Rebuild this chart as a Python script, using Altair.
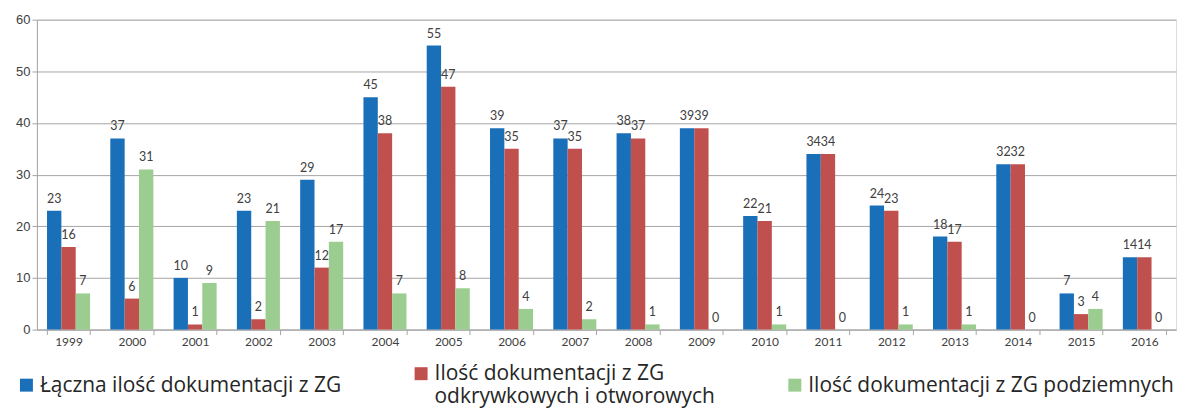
import altair as alt
import pandas as pd

years = [str(y) for y in range(1999, 2017)]
series_names = [
    "Łączna ilość dokumentacji z ZG",
    "Ilość dokumentacji z ZG odkrywkowych i otworowych",
    "Ilość dokumentacji z ZG podziemnych",
]
total = [23, 37, 10, 23, 29, 45, 55, 39, 37, 38, 39, 22, 34, 24, 18, 32, 7, 14]
open_pit = [16, 6, 1, 2, 12, 38, 47, 35, 35, 37, 39, 21, 34, 23, 17, 32, 3, 14]
underground = [7, 31, 9, 21, 17, 7, 8, 4, 2, 1, 0, 1, 0, 1, 1, 0, 4, 0]
colors = ["#1A6FB9", "#C0504D", "#9BCD90"]

rows = []
for vals, name in zip([total, open_pit, underground], series_names):
    for y, v in zip(years, vals):
        rows.append({"rok": y, "seria": name, "wartosc": v})
df = pd.DataFrame(rows)

x = alt.X("rok:N", sort=years, title=None,
          scale=alt.Scale(paddingInner=0.32, paddingOuter=0.16),
          axis=alt.Axis(labelAngle=0, tickBand="extent", labelFont="Lato",
                        labelFontSize=12, labelColor="#404040",
                        domainColor="#A6A6A6", tickColor="#A6A6A6", tickSize=5))
xo = alt.XOffset("seria:N", sort=series_names,
                 scale=alt.Scale(domain=series_names, paddingInner=0))
y = alt.Y("wartosc:Q", title=None,
          scale=alt.Scale(domain=[0, 60]),
          axis=alt.Axis(values=[0, 10, 20, 30, 40, 50, 60], labelFont="Liberation Sans",
                        labelFontSize=13, labelColor="#404040",
                        gridColor="#A6A6A6", domainColor="#A6A6A6",
                        tickColor="#A6A6A6", tickSize=5))

label_expr = (
    "datum.label == 'Ilość dokumentacji z ZG odkrywkowych i otworowych' ? "
    "['Ilość dokumentacji z ZG', 'odkrywkowych i otworowych'] : datum.label"
)

color = alt.Color(
    "seria:N",
    scale=alt.Scale(domain=series_names, range=colors),
    legend=alt.Legend(
        title=None, orient="none", direction="horizontal", columns=3,
        legendX=-21, legendY=351,
        symbolType="M-1,-2L1,-2L1,0L-1,0Z", symbolSize=169, symbolStrokeWidth=0,
        labelFont="Open Sans", labelFontSize=21, labelColor="#262626",
        labelOffset=3, columnPadding=69, labelLimit=800,
        labelBaseline="alphabetic",
        labelExpr=label_expr,
    ),
)

base = alt.Chart(df).encode(x=x, xOffset=xo, y=y)
bars = base.mark_bar().encode(color=color)
labels = base.mark_text(baseline="bottom", dy=-5, font="Lato", fontSize=12.5,
                        color="#404040").encode(text="wartosc:Q")

chart = (bars + labels).properties(width=1143, height=311).configure_view(
    stroke=None
).configure(padding={"left": 7, "top": 5, "right": 5, "bottom": 5})

chart.save("out.html", embed_options={"renderer": "svg", "actions": False})
